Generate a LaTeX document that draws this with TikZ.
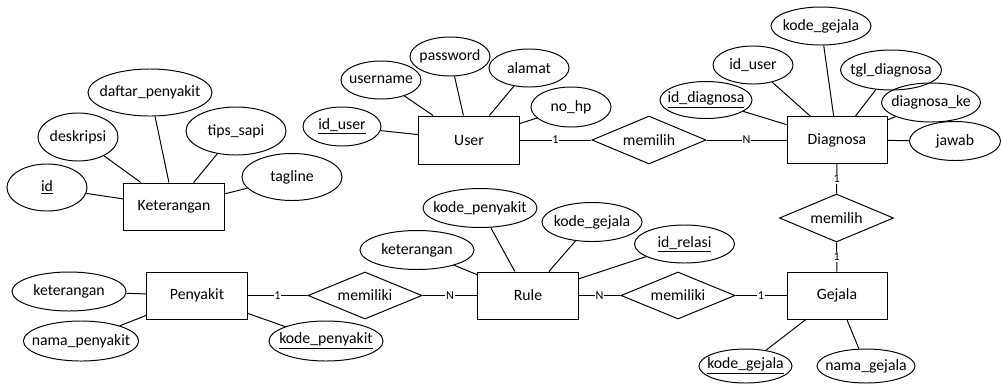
\documentclass[tikz,border=0pt]{standalone}
\usepackage{fontspec}
\setmainfont{Carlito}
\usetikzlibrary{shapes,positioning}

\begin{document}
\begin{tikzpicture}[x=0.025cm, y=-0.025cm, line width=0.7pt,
    font=\fontsize{11.2pt}{13pt}\selectfont,
    entity/.style={rectangle, draw, minimum width=2.5cm, minimum height=1.175cm},
    attr/.style={ellipse, draw, inner xsep=-6pt, inner ysep=0pt, minimum width=#1},
    attr/.default=2cm,
    relasi/.style={diamond, draw, aspect=2.4, inner sep=0pt, minimum width=2.85cm, minimum height=1.175cm},
    card/.style={fill=white, inner sep=0.6pt, font=\fontsize{8.6pt}{10pt}\selectfont}]
  \useasboundingbox (0,0) rectangle (1001,383);

  % Keterangan
  \node[entity] (ket) at (174,206.5) {Keterangan};
  \node[attr=2cm, minimum height=1.175cm] (ketid) at (47,187.5) {\underline{id}};
  \node[attr=2cm, minimum height=1.2cm] (ketdes) at (78,137) {deskripsi};
  \node[attr=3.1cm, minimum height=1.175cm] (ketdaftar) at (150,92.5) {daftar\_penyakit};
  \node[attr=2.5cm, minimum height=1.2cm] (kettips) at (236,131) {tips\_sapi};
  \node[attr=2.5cm, minimum height=1.175cm] (kettag) at (292,177) {tagline};
  \foreach \a in {ketid,ketdes,ketdaftar,kettips,kettag}
    \draw (\a) -- (ket);

  % User
  \node[entity, minimum height=1.2cm] (user) at (469,140) {User};
  \node[attr=1.95cm, minimum height=0.975cm] (userid) at (342,126.5) {\underline{id\_user}};
  \node[attr, minimum height=0.95cm] (username) at (381,80) {username};
  \node[attr, minimum height=0.975cm] (userpass) at (450,56.5) {password};
  \node[attr, minimum height=0.95cm] (useralamat) at (529,68) {alamat};
  \node[attr, minimum height=1cm] (userhp) at (571,107) {no\_hp};
  \foreach \a in {userid,username,userpass,useralamat,userhp}
    \draw (\a) -- (user);

  % Diagnosa
  \node[entity] (diag) at (837,140) {Diagnosa};
  \node[attr=2.3cm, minimum height=0.925cm] (diagid) at (706,100) {\underline{id\_diagnosa}};
  \node[attr, minimum height=0.95cm] (diaguser) at (753,65) {id\_user};
  \node[attr=2.5cm, minimum height=0.95cm] (diaggejala) at (821,26) {kode\_gejala};
  \node[attr=2.525cm, minimum height=1cm] (diagtgl) at (891,70) {tgl\_diagnosa};
  \node[attr=2.475cm, minimum height=0.975cm] (diagke) at (931,102.5) {diagnosa\_ke};
  \node[attr=2.275cm, minimum height=0.975cm] (diagjawab) at (955,141) {jawab};
  \foreach \a in {diagid,diaguser,diaggejala,diagtgl,diagke,diagjawab}
    \draw (\a) -- (diag);

  \node[relasi, minimum height=1.2cm] (memilihA) at (649,140) {memilih};
  \draw (user) -- node[card] {1} (memilihA);
  \draw (memilihA) -- node[card] {N} (diag);

  % Penyakit
  \node[entity] (penyakit) at (197,295.5) {Penyakit};
  \node[attr=2.85cm, minimum height=0.975cm] (penyket) at (69,291.5) {keterangan};
  \node[attr=2.85cm, minimum height=1cm] (penynama) at (81,341) {nama\_penyakit};
  \node[attr=2.85cm, minimum height=1cm] (penykode) at (326,341) {\underline{kode\_penyakit}};
  \foreach \a in {penyket,penynama,penykode}
    \draw (\a) -- (penyakit);

  % Rule
  \node[entity] (rule) at (528,295.5) {Rule};
  \node[attr=2.85cm, minimum height=0.975cm] (ruleket) at (417,250) {keterangan};
  \node[attr=2.85cm, minimum height=0.975cm] (rulepeny) at (480,208) {kode\_penyakit};
  \node[attr=2.5cm, minimum height=0.975cm] (rulegejala) at (592,222) {kode\_gejala};
  \node[attr=2.5cm, minimum height=0.95cm] (ruleid) at (684.5,244) {\underline{id\_relasi}};
  \foreach \a in {ruleket,rulepeny,rulegejala,ruleid}
    \draw (\a) -- (rule);

  % Gejala
  \node[entity] (gejala) at (837,295.5) {Gejala};
  \node[attr=2.325cm, minimum height=0.85cm] (gejkode) at (745.5,366) {\underline{kode\_gejala}};
  \node[attr=2.45cm, minimum height=0.85cm] (gejnama) at (866,366) {nama\_gejala};
  \foreach \a in {gejkode,gejnama}
    \draw (\a) -- (gejala);

  \node[relasi] (memilikiA) at (365,295.5) {memiliki};
  \node[relasi] (memilikiB) at (678,295.5) {memiliki};
  \node[relasi, minimum height=1.2cm] (memilihB) at (836.5,218) {memilih};
  \draw (penyakit) -- node[card] {1} (memilikiA);
  \draw (memilikiA) -- node[card] {N} (rule);
  \draw (rule) -- node[card] {N} (memilikiB);
  \draw (memilikiB) -- node[card] {1} (gejala);
  \draw (diag) -- node[card] {1} (memilihB);
  \draw (memilihB) -- node[card] {1} (gejala);
\end{tikzpicture}
\end{document}
